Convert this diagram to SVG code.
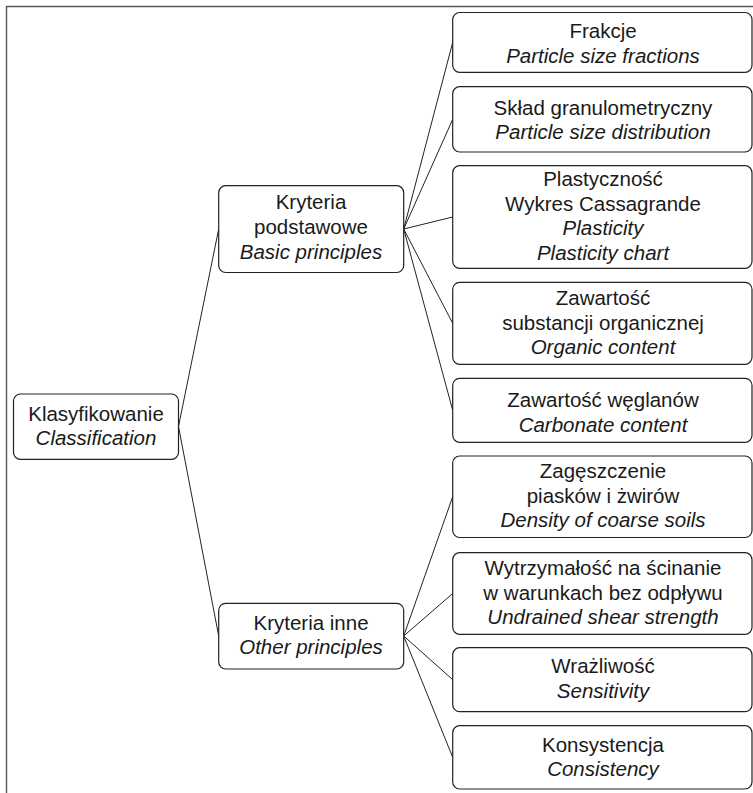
<svg xmlns="http://www.w3.org/2000/svg" width="753" height="793" viewBox="0 0 753 793">
<style>
.frame{fill:none;stroke:#555;stroke-width:1.4}
.box{fill:#fff;stroke:#222;stroke-width:1.2}
.con{fill:none;stroke:#222;stroke-width:1}
text{font-family:"Liberation Sans",Arial,sans-serif;font-size:20.5px;fill:#1a1a1a;text-anchor:middle}
.it{font-style:italic}
</style>
<rect width="753" height="793" fill="#fff"/>
<path class="frame" d="M6.5,800 V6.5 H760"/>
<g id="connectors">
<line class="con" x1="178.5" y1="426.5" x2="218.7" y2="229"/>
<line class="con" x1="178.5" y1="426.5" x2="218.7" y2="636"/>
<line class="con" x1="403.7" y1="229" x2="452.7" y2="42.4"/>
<line class="con" x1="403.7" y1="229" x2="452.7" y2="119.3"/>
<line class="con" x1="403.7" y1="229" x2="452.7" y2="217"/>
<line class="con" x1="403.7" y1="229" x2="452.7" y2="323.3"/>
<line class="con" x1="403.7" y1="229" x2="452.7" y2="410.3"/>
<line class="con" x1="403.7" y1="636" x2="452.7" y2="496.7"/>
<line class="con" x1="403.7" y1="636" x2="452.7" y2="593.5"/>
<line class="con" x1="403.7" y1="636" x2="452.7" y2="679.7"/>
<line class="con" x1="403.7" y1="636" x2="452.7" y2="757.3"/>
</g>
<g id="klasyfikowanie">
<rect class="box" x="13.5" y="394" width="165" height="65.3" rx="7"/>
<text x="96" y="421">Klasyfikowanie</text>
<text class="it" x="96" y="445">Classification</text>
</g>
<g id="kryteria-podstawowe">
<rect class="box" x="218.7" y="185.7" width="185" height="86.8" rx="7"/>
<text x="311" y="209.3">Kryteria</text>
<text x="311" y="234">podstawowe</text>
<text class="it" x="311" y="259">Basic principles</text>
</g>
<g id="kryteria-inne">
<rect class="box" x="218.7" y="603.3" width="185" height="65.7" rx="7"/>
<text x="311" y="630">Kryteria inne</text>
<text class="it" x="311" y="654">Other principles</text>
</g>
<g id="frakcje">
<rect class="box" x="452.7" y="12.5" width="299.3" height="59.8" rx="7"/>
<text x="603" y="38.3">Frakcje</text>
<text class="it" x="603" y="63.3">Particle size fractions</text>
</g>
<g id="sklad">
<rect class="box" x="452.7" y="86.7" width="299.3" height="65.3" rx="7"/>
<text x="603" y="115">Skład granulometryczny</text>
<text class="it" x="603" y="139.3">Particle size distribution</text>
</g>
<g id="plastycznosc">
<rect class="box" x="452.7" y="165.7" width="299.3" height="102.6" rx="7"/>
<text x="603" y="185.7">Plastyczność</text>
<text x="603" y="210.5">Wykres Cassagrande</text>
<text class="it" x="603" y="235.3">Plasticity</text>
<text class="it" x="603" y="260">Plasticity chart</text>
</g>
<g id="organiczne">
<rect class="box" x="452.7" y="282.3" width="299.3" height="82" rx="7"/>
<text x="603" y="305">Zawartość</text>
<text x="603" y="330">substancji organicznej</text>
<text class="it" x="603" y="354">Organic content</text>
</g>
<g id="weglany">
<rect class="box" x="452.7" y="378.3" width="299.3" height="64" rx="7"/>
<text x="603" y="406.7">Zawartość węglanów</text>
<text class="it" x="603" y="431.7">Carbonate content</text>
</g>
<g id="zageszczenie">
<rect class="box" x="452.7" y="456" width="299.3" height="81.5" rx="7"/>
<text x="603" y="478.3">Zagęszczenie</text>
<text x="603" y="503.3">piasków i żwirów</text>
<text class="it" x="603" y="527.3">Density of coarse soils</text>
</g>
<g id="wytrzymalosc">
<rect class="box" x="452.7" y="552.7" width="299.3" height="81.6" rx="7"/>
<text x="603" y="575">Wytrzymałość na ścinanie</text>
<text x="603" y="600">w warunkach bez odpływu</text>
<text class="it" x="603" y="624.3">Undrained shear strength</text>
</g>
<g id="wrazliwosc">
<rect class="box" x="452.7" y="647.7" width="299.3" height="64" rx="7"/>
<text x="603" y="673.3">Wrażliwość</text>
<text class="it" x="603" y="698.3">Sensitivity</text>
</g>
<g id="konsystencja">
<rect class="box" x="452.7" y="725.7" width="299.3" height="63.3" rx="7"/>
<text x="603" y="751.7">Konsystencja</text>
<text class="it" x="603" y="776">Consistency</text>
</g>
</svg>
